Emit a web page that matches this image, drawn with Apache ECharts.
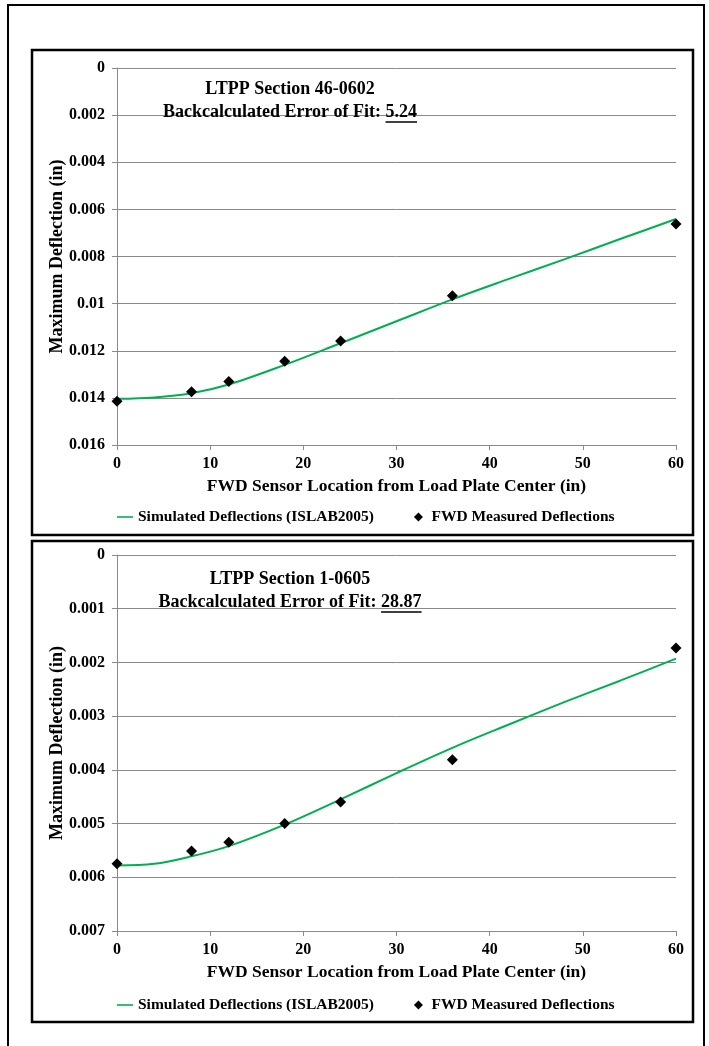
<!DOCTYPE html>
<html>
<head>
<meta charset="utf-8">
<script src="https://cdn.jsdelivr.net/npm/echarts@6/dist/echarts.min.js"></script>
<style>
  html, body { margin: 0; padding: 0; background: #ffffff; }
  #chart { width: 709px; height: 1046px; }
</style>
</head>
<body>
<div id="chart"></div>
<script>
// FWD sensor offsets (in) where deflections were measured
const sensorOffsets = [0, 8, 12, 18, 24, 36, 60];
// offsets at which the ISLAB2005 deflection basin is sampled
const curveOffsets = [0, 4, 8, 12, 18, 24, 30, 36, 42, 48, 54, 60];

// LTPP Section 46-0602
const measured4606 = [0.01414, 0.01374, 0.01330, 0.01245, 0.01159, 0.00967, 0.00662];
const simulated4606 = [0.01404, 0.01398, 0.01380, 0.01343, 0.01260, 0.01168, 0.01075, 0.00982, 0.00896, 0.00812, 0.00726, 0.00641];

// LTPP Section 1-0605
const measured0105 = [0.00575, 0.00551, 0.00535, 0.00500, 0.00460, 0.00381, 0.00173];
const simulated0105 = [0.00578, 0.00575, 0.00561, 0.00542, 0.00502, 0.00455, 0.00406, 0.00359, 0.00316, 0.00274, 0.00234, 0.00193];

const sectionNames = ['LTPP Section 46-0602', 'LTPP Section 1-0605'];
const fitErrors = ['5.24', '28.87'];
const yAxisMax = [0.016, 0.007];
const yAxisStep = [0.002, 0.001];
const xAxisMax = 60;
const xAxisStep = 10;

const simName = 'Simulated Deflections (ISLAB2005)';
const fwdName = 'FWD Measured Deflections';

const FONT = "'Liberation Serif', 'Times New Roman', serif";
const GRID_COLOR = '#8a8a8a';
const GREEN = '#00b050';

// panel geometry (plot area + surrounding box)
const panels = [
  { top: 68, height: 377, box: [32, 50, 661, 485], titleY: 89, legendTop: 509 },
  { top: 555, height: 376, box: [32, 541, 661, 481], titleY: 579, legendTop: 997 }
];
const plotLeft = 117, plotRight = 33;

function pairs(xs, ys) { return xs.map((x, i) => [x, ys[i]]); }

const measCanvas = document.createElement('canvas').getContext('2d');
function textWidth(str, size) {
  measCanvas.font = 'bold ' + size + 'px ' + FONT;
  return measCanvas.measureText(str).width;
}

const grids = [], xAxes = [], yAxes = [], series = [], legends = [], graphics = [];

// outer page frame (open at the bottom)
graphics.push({
  type: 'polyline', silent: true, z: 10,
  shape: { points: [[8, 1046], [8, 5], [704, 5], [704, 1046]] },
  style: { fill: null, stroke: '#000', lineWidth: 2 }
});

const seriesData = [
  { meas: measured4606, sim: simulated4606 },
  { meas: measured0105, sim: simulated0105 }
];

function boldText(str, x, y, size, align) {
  return {
    type: 'text', silent: true, z: 10, x: x, y: y,
    style: {
      text: str, fontFamily: FONT, fontWeight: 'bold', fontSize: size,
      fill: '#000', align: align, verticalAlign: 'middle'
    }
  };
}

panels.forEach((p, i) => {
  grids.push({ left: plotLeft, right: plotRight, top: p.top, height: p.height, containLabel: false });

  xAxes.push({
    type: 'value', gridIndex: i, min: 0, max: xAxisMax, interval: xAxisStep,
    name: 'FWD Sensor Location from Load Plate Center (in)',
    nameLocation: 'middle', nameGap: 32, nameMoveOverlap: false,
    nameTextStyle: { fontFamily: FONT, fontWeight: 'bold', fontSize: 17.5, color: '#000' },
    axisLine: { onZero: false, lineStyle: { color: GRID_COLOR, width: 1 } },
    axisTick: { show: true, length: 5, lineStyle: { color: GRID_COLOR } },
    axisLabel: { fontFamily: FONT, fontWeight: 'bold', fontSize: 16, color: '#000', margin: 11 },
    splitLine: { show: false }
  });

  yAxes.push({
    type: 'value', gridIndex: i, inverse: true, min: 0, max: yAxisMax[i], interval: yAxisStep[i],
    name: 'Maximum Deflection (in)',
    nameLocation: 'middle', nameGap: 51, nameRotate: 90, nameMoveOverlap: false,
    nameTextStyle: { fontFamily: FONT, fontWeight: 'bold', fontSize: 18, color: '#000' },
    axisLine: { show: true, onZero: false, lineStyle: { color: GRID_COLOR, width: 1 } },
    axisTick: { show: true, length: 5, lineStyle: { color: GRID_COLOR } },
    axisLabel: {
      fontFamily: FONT, fontWeight: 'bold', fontSize: 16, color: '#000', margin: 12,
      formatter: v => String(+v.toFixed(4))
    },
    splitLine: { show: true, lineStyle: { color: GRID_COLOR, width: 1 } }
  });

  series.push({
    name: simName, type: 'line', xAxisIndex: i, yAxisIndex: i,
    data: pairs(curveOffsets, seriesData[i].sim),
    smooth: 0.35, symbol: 'none', showSymbol: false,
    lineStyle: { color: GREEN, width: 2 }, itemStyle: { color: GREEN },
    z: 2
  });
  series.push({
    name: fwdName, type: 'scatter', xAxisIndex: i, yAxisIndex: i,
    data: pairs(sensorOffsets, seriesData[i].meas),
    symbol: 'diamond', symbolSize: 11,
    itemStyle: { color: '#000', opacity: 1 }, z: 3
  });

  legends.push({
    left: 117, top: p.legendTop, orient: 'horizontal', padding: 0,
    itemWidth: 16, itemHeight: 9, itemGap: 40, selectedMode: false,
    textStyle: { fontFamily: FONT, fontWeight: 'bold', fontSize: 15.5, color: '#000' },
    data: [
      { name: simName, icon: 'path://M0,0 H20 V2 H0 Z', itemStyle: { color: GREEN } },
      { name: fwdName, icon: 'path://M5,0 L10,5 L5,10 L0,5 Z', itemStyle: { color: '#000', opacity: 1 } }
    ]
  });

  // panel box
  graphics.push({
    type: 'rect', silent: true, z: 10,
    shape: { x: p.box[0], y: p.box[1], width: p.box[2], height: p.box[3] },
    style: { fill: null, stroke: '#000', lineWidth: 2.5 }
  });

  // in-plot annotation: section name and error of fit
  const cx = 290;
  const size = 18;
  graphics.push(boldText(sectionNames[i], cx, p.titleY, size, 'center'));
  const prefix = 'Backcalculated Error of Fit: ';
  const wPrefix = textWidth(prefix, size);
  const wValue = textWidth(fitErrors[i], size);
  const x0 = cx - (wPrefix + wValue) / 2;
  const y2 = p.titleY + 23;
  graphics.push(boldText(prefix, x0, y2, size, 'left'));
  graphics.push(boldText(fitErrors[i], x0 + wPrefix, y2, size, 'left'));
  graphics.push({
    type: 'line', silent: true, z: 10,
    shape: { x1: x0 + wPrefix, y1: y2 + 10, x2: x0 + wPrefix + wValue, y2: y2 + 10 },
    style: { stroke: '#000', lineWidth: 1.5 }
  });
});

const chart = echarts.init(document.getElementById('chart'), null, { renderer: 'canvas' });
chart.setOption({
  backgroundColor: '#ffffff',
  animation: false,
  grid: grids,
  xAxis: xAxes,
  yAxis: yAxes,
  legend: legends,
  series: series,
  graphic: graphics
});
</script>
</body>
</html>
